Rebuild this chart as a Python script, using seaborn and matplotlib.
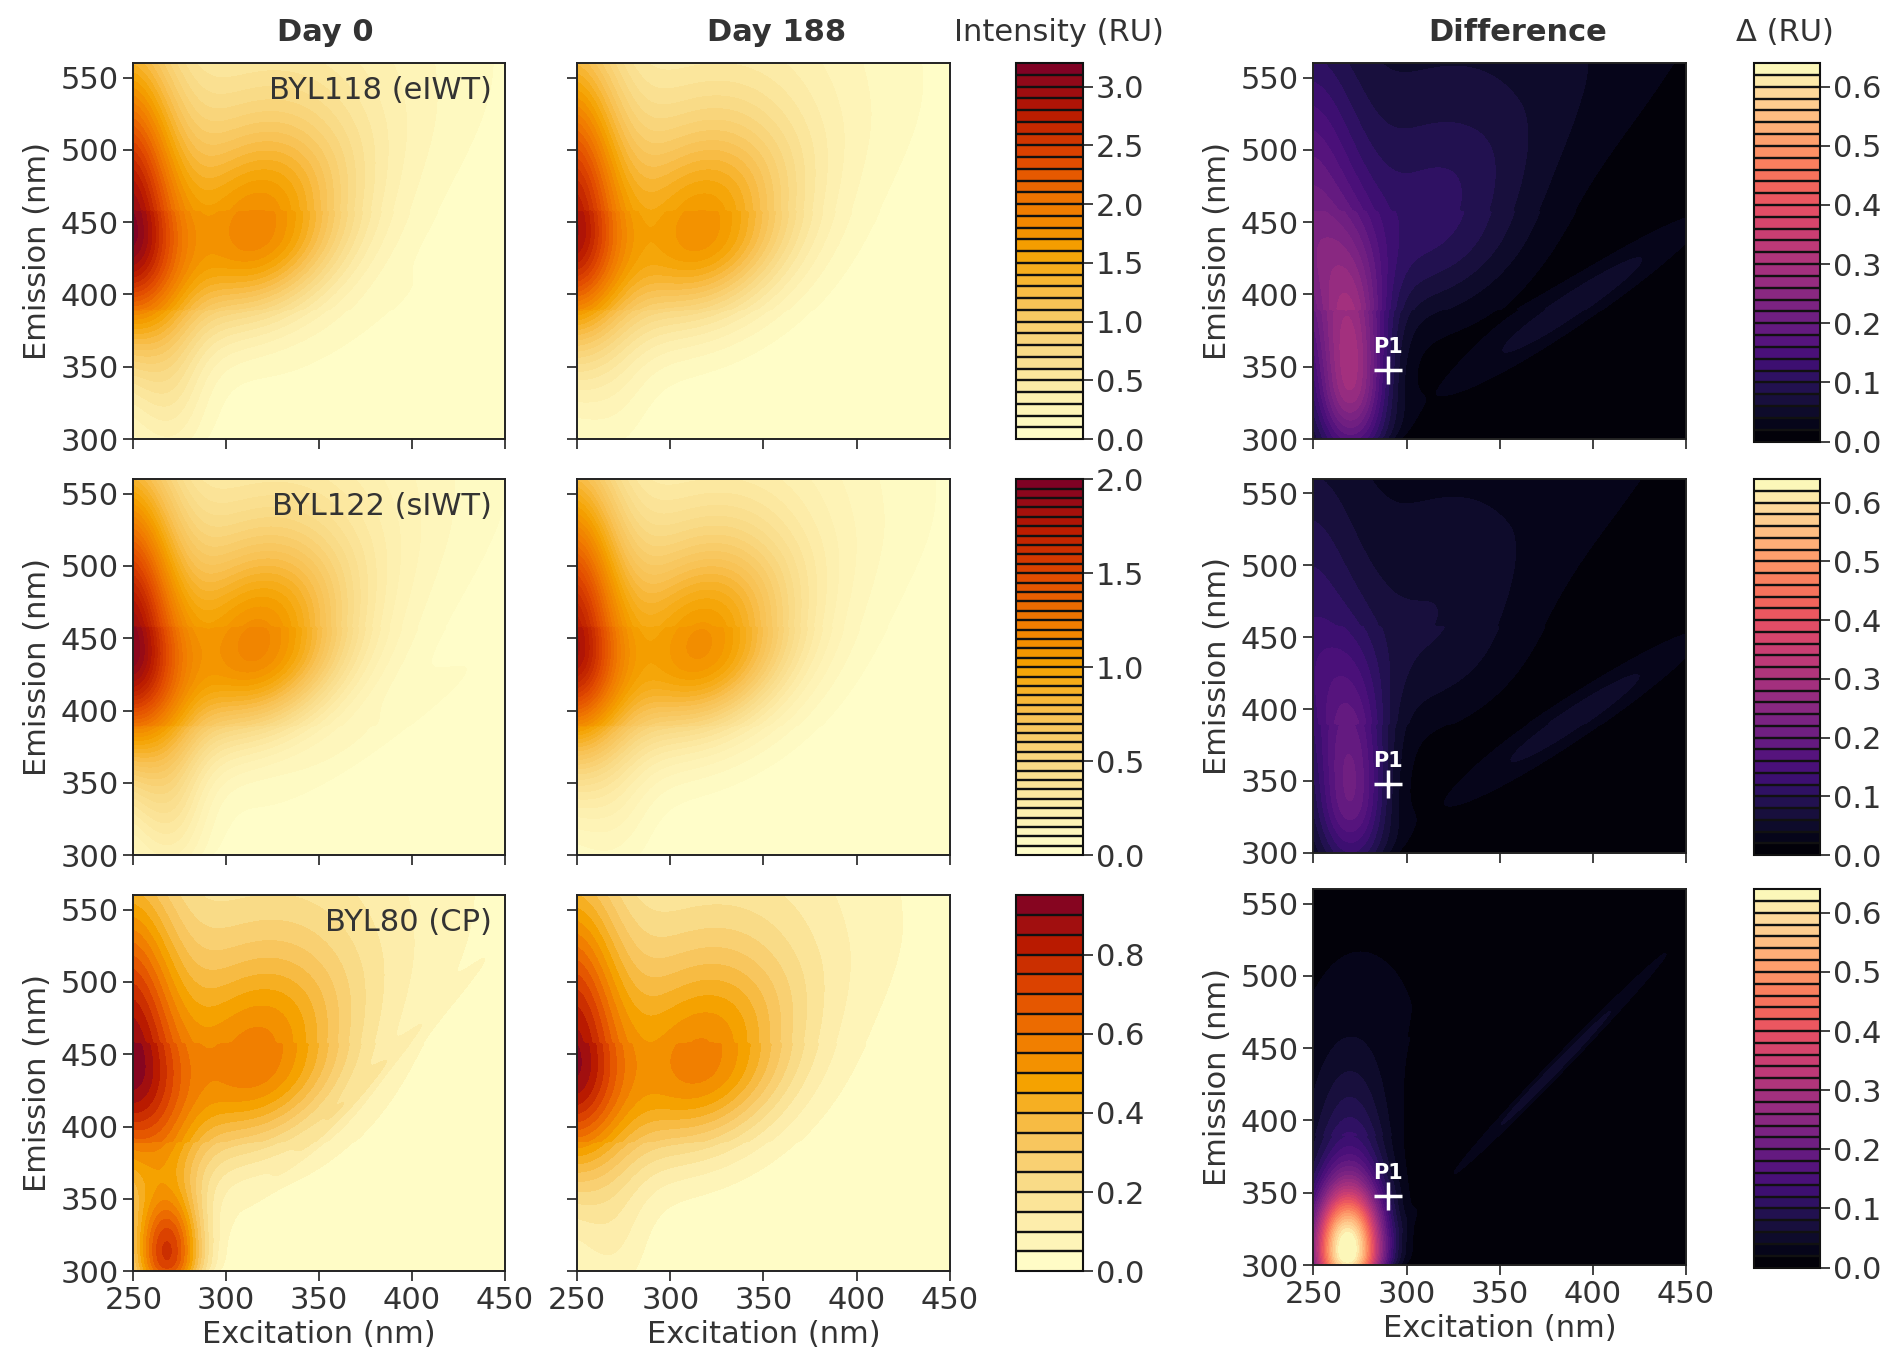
import numpy as np
import matplotlib
matplotlib.use("Agg")
import matplotlib.pyplot as plt
import seaborn as sns

EX_RANGE = [250, 450]
EM_RANGE = [300, 560]
EX_TICKS = [250, 300, 350, 400, 450]
EM_TICKS = [300, 350, 400, 450, 500, 550]

SAMPLES = ["BYL118 (eIWT)", "BYL122 (sIWT)", "BYL80 (CP)"]
COLUMN_TITLES = ["Day 0", "Day 188", "Difference"]

# fluorescence components: A (humic UVC), C (humic UVA), M (broad humic),
# T (tryptophan-like), B (tyrosine-like), N (diffuse), R1/R2 (scatter residue)
COMP_NAMES = ["A", "C", "M", "T", "B", "N", "R1", "R2"]
COMP_EX = [245, 318, 300, 270, 268, 300, 390, 380]
COMP_EM = [445, 437, 480, 340, 308, 480, 393, 436]
COMP_SX = [20, 34, 75, 14, 13, 150, 50, 40]
COMP_SY_LO = [55, 38, 60, 40, 20, 60, 12, 5]
COMP_SY_HI = [92, 55, 100, 60, 30, 200, 12, 5]
COMP_TILT = [0.0, 0.3, 0.5, 0.0, 0.0, 0.9, 0.85, 1.33]

AMP_BYL118_DAY0 = [2.55, 1.45, 0.55, 0.40, 0.00, 0.035, 0.05, 0.0]
AMP_BYL118_DAY188 = [2.40, 1.39, 0.52, 0.12, 0.00, 0.0, 0.0, 0.0]
AMP_BYL122_DAY0 = [1.58, 0.92, 0.32, 0.30, 0.00, 0.03, 0.05, 0.0]
AMP_BYL122_DAY188 = [1.50, 0.89, 0.31, 0.10, 0.00, 0.0, 0.0, 0.0]
AMP_BYL80_DAY0 = [0.72, 0.43, 0.20, 0.20, 0.62, 0.02, 0.0, 0.05]
AMP_BYL80_DAY188 = [0.72, 0.43, 0.20, 0.06, 0.03, 0.0, 0.0, 0.0]

# emission-scan stitching (instrument segments)
STITCH_EM = [390, 458]
STITCH_GAIN = [0.95, 1.0, 0.97]

SCATTER_EDGE = [300, 300, 0.55]  # ex, em, slope of the removed scatter region

INTENSITY_MAX = [3.2, 2.0, 0.95]
INTENSITY_STEP = [0.1, 0.05, 0.05]
INTENSITY_TICKS = [[0.0, 0.5, 1.0, 1.5, 2.0, 2.5, 3.0],
                   [0.0, 0.5, 1.0, 1.5, 2.0],
                   [0.0, 0.2, 0.4, 0.6, 0.8]]
DELTA_MAX = 0.64
DELTA_STEP = 0.02
DELTA_TICKS = [0.0, 0.1, 0.2, 0.3, 0.4, 0.5, 0.6]
P1_POINT = [290, 348]

INTENSITY_COLORS = ["#ffffcc", "#fdeeac", "#f9d882", "#f8c050", "#f5a300",
                    "#f07800", "#e04800", "#b81800", "#7a0028"]

# ---------------- style ----------------
FS = 22
sns.set_theme(style="ticks")
plt.rcParams.update({
    "font.family": ["DejaVu Sans"],
    "text.color": "#333333",
    "axes.labelcolor": "#333333",
    "xtick.color": "#333333",
    "ytick.color": "#333333",
    "axes.edgecolor": "#222222",
    "axes.linewidth": 1.4,
    "xtick.major.size": 7,
    "ytick.major.size": 7,
    "xtick.major.width": 1.3,
    "ytick.major.width": 1.3,
    "xtick.labelsize": FS,
    "ytick.labelsize": FS,
    "axes.labelsize": FS,
})

int_cmap = sns.blend_palette(INTENSITY_COLORS, as_cmap=True)
delta_cmap = sns.color_palette("magma", as_cmap=True)

ex = np.arange(EX_RANGE[0], EX_RANGE[1] + 1, 1.0)
em = np.arange(EM_RANGE[0], EM_RANGE[1] + 1, 1.0)
EX, EM = np.meshgrid(ex, em)


def eem_field(amps):
    z = np.zeros_like(EX)
    for a, x0, y0, sx, slo, shi, t in zip(amps, COMP_EX, COMP_EM, COMP_SX,
                                          COMP_SY_LO, COMP_SY_HI, COMP_TILT):
        yc = y0 + t * (EX - x0)
        dy = EM - yc
        sy = np.where(dy < 0, slo, shi)
        z += a * np.exp(-0.5 * ((EX - x0) / sx) ** 2 - 0.5 * (dy / sy) ** 2)
    gain = np.select([EM < STITCH_EM[0], EM < STITCH_EM[1]],
                     [STITCH_GAIN[0], STITCH_GAIN[1]], STITCH_GAIN[2])
    z *= gain
    edge = SCATTER_EDGE[1] + SCATTER_EDGE[2] * (EX - SCATTER_EDGE[0])
    z *= 1.0 / (1.0 + np.exp(-(EM - edge) / 3.0))
    return z


day_amps = [(AMP_BYL118_DAY0, AMP_BYL118_DAY188),
            (AMP_BYL122_DAY0, AMP_BYL122_DAY188),
            (AMP_BYL80_DAY0, AMP_BYL80_DAY188)]

W, H = 1560.0, 1127.0  # layout measured on reference grid
fig = plt.figure(figsize=(18.92, 13.67), dpi=100)


def rect(x0, x1, y0, y1):
    return [x0 / W, 1 - y1 / H, (x1 - x0) / W, (y1 - y0) / H]


row_y = [(52, 362), (395, 705), (738, 1048)]
diff_y = [(52, 362), (395, 703), (733, 1043)]
col_x = [(110, 416), (476, 783)]
cb1_x = (838, 893)
diff_x = (1083, 1390)
cb2_x = (1446, 1501)

delta_levels = np.arange(0, DELTA_MAX + 1e-9, DELTA_STEP)


def style_cbar(cb, ticks):
    cb.ax.set_yticklabels([f"{t:.1f}" for t in ticks])
    cb.dividers.set_color("#111111")
    cb.dividers.set_linewidth(1.7)
    cb.outline.set_edgecolor("#111111")
    cb.outline.set_linewidth(1.5)
    cb.ax.tick_params(labelsize=FS, length=7, width=1.3, pad=2)


for r in range(3):
    levels = np.arange(0, INTENSITY_MAX[r] + 1e-9, INTENSITY_STEP[r])
    fields = [eem_field(day_amps[r][0]), eem_field(day_amps[r][1])]
    cs = None
    for c in range(2):
        ax = fig.add_axes(rect(col_x[c][0], col_x[c][1], row_y[r][0], row_y[r][1]))
        z = np.clip(fields[c], 0, INTENSITY_MAX[r] - 1e-6)
        cs = ax.contourf(EX, EM, z, levels=levels, cmap=int_cmap,
                         vmin=0, vmax=INTENSITY_MAX[r])
        ax.set_xlim(EX_RANGE)
        ax.set_ylim(EM_RANGE)
        ax.set_xticks(EX_TICKS)
        ax.set_yticks(EM_TICKS)
        if c == 0:
            ax.set_ylabel("Emission (nm)", labelpad=6)
            ax.text(0.965, 0.965, SAMPLES[r], transform=ax.transAxes,
                    ha="right", va="top", fontsize=FS, color="#333333")
        else:
            ax.set_yticklabels([])
        if r == 2:
            ax.set_xlabel("Excitation (nm)", labelpad=4)
        else:
            ax.set_xticklabels([])
    cax = fig.add_axes(rect(cb1_x[0], cb1_x[1], row_y[r][0], row_y[r][1]))
    cb = fig.colorbar(cs, cax=cax, ticks=INTENSITY_TICKS[r], drawedges=True)
    style_cbar(cb, INTENSITY_TICKS[r])

    # difference map (Day 0 - Day 188)
    dz = np.clip(fields[0] - fields[1], 0, DELTA_MAX - 1e-6)
    axd = fig.add_axes(rect(diff_x[0], diff_x[1], diff_y[r][0], diff_y[r][1]))
    dcs = axd.contourf(EX, EM, dz, levels=delta_levels, cmap=delta_cmap,
                       vmin=0, vmax=DELTA_MAX)
    axd.set_xlim(EX_RANGE)
    axd.set_ylim(EM_RANGE)
    axd.set_xticks(EX_TICKS)
    axd.set_yticks(EM_TICKS)
    axd.set_ylabel("Emission (nm)", labelpad=6)
    if r == 2:
        axd.set_xlabel("Excitation (nm)", labelpad=4)
    else:
        axd.set_xticklabels([])
    axd.plot([P1_POINT[0]], [P1_POINT[1]], marker="+", color="white",
             markersize=20, markeredgewidth=2.5, linestyle="none")
    axd.annotate("P1", xy=(P1_POINT[0], P1_POINT[1]), xytext=(0, 9),
                 textcoords="offset points", ha="center", va="bottom",
                 color="white", fontsize=15, fontweight="bold")
    caxd = fig.add_axes(rect(cb2_x[0], cb2_x[1], diff_y[r][0], diff_y[r][1] + 2))
    cbd = fig.colorbar(dcs, cax=caxd, ticks=DELTA_TICKS, drawedges=True)
    style_cbar(cbd, DELTA_TICKS)

# column titles
ty = 1 - 27 / H
fig.text(268 / W, ty, COLUMN_TITLES[0], ha="center", va="center",
         fontsize=FS, fontweight="bold", color="#333333")
fig.text(640 / W, ty, COLUMN_TITLES[1], ha="center", va="center",
         fontsize=FS, fontweight="bold", color="#333333")
fig.text(873 / W, ty, "Intensity (RU)", ha="center", va="center",
         fontsize=FS, color="#333333")
fig.text(1251 / W, ty, COLUMN_TITLES[2], ha="center", va="center",
         fontsize=FS, fontweight="bold", color="#333333")
fig.text(1472 / W, ty, "Δ (RU)", ha="center", va="center",
         fontsize=FS, color="#333333")

fig.savefig("out.png", dpi=100, facecolor="white")
